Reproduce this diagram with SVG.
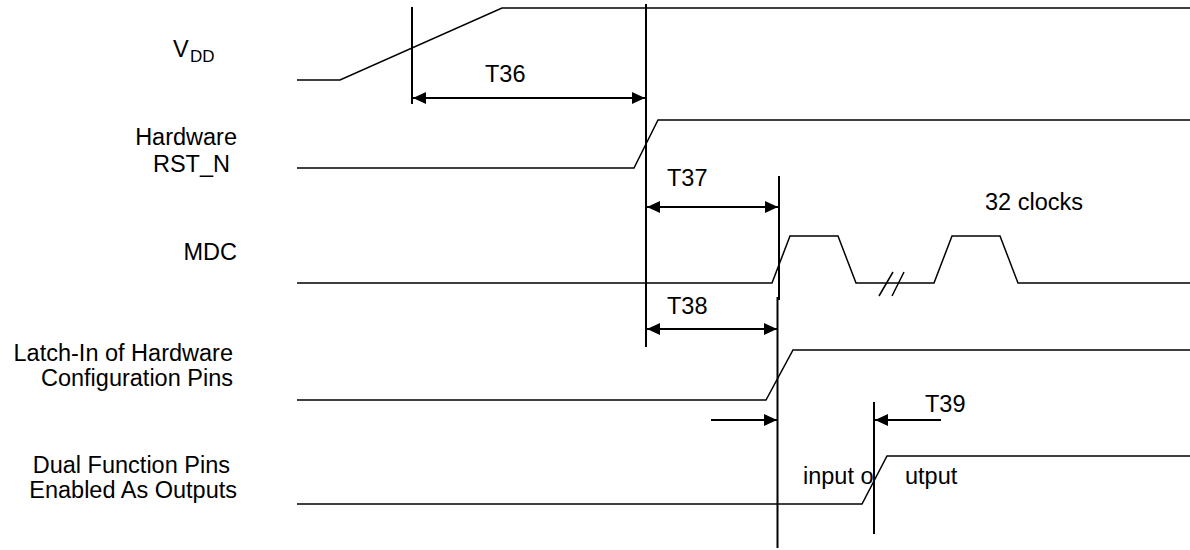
<svg xmlns="http://www.w3.org/2000/svg" width="1190" height="550" viewBox="0 0 1190 550">
<style>
text{font-family:"Liberation Sans",Arial,sans-serif;font-size:23.5px;fill:#000}
.lbl{text-anchor:end}
.sub{font-size:17px}
.wave{fill:none;stroke:#000;stroke-width:1.5;stroke-linejoin:miter}
.mark{fill:none;stroke:#000;stroke-width:2}
.arr{fill:none;stroke:#000;stroke-width:2}
</style>
<defs>
<marker id="ah" viewBox="0 0 13 12" refX="13" refY="6" markerWidth="13" markerHeight="12" markerUnits="userSpaceOnUse" orient="auto-start-reverse">
<path d="M0,0 L13,6 L0,12 z" fill="#000"/>
</marker>
</defs>
<rect width="1190" height="550" fill="#fff"/>
<g id="vdd">
<text x="173" y="57">V<tspan class="sub" x="190" y="62">DD</tspan></text>
<path class="wave" d="M297,80 L340,80 L502,8 L1190,8"/>
</g>
<g id="rst_n">
<text class="lbl" x="237" y="145">Hardware</text>
<text class="lbl" x="230" y="172">RST_N</text>
<path class="wave" d="M297,168 L634,168 L658,120 L1190,120"/>
</g>
<g id="mdc">
<text class="lbl" x="237" y="260">MDC</text>
<path class="wave" d="M297,283 L772,283 L790,236 L838,236 L856,283 L934,283 L952,236 L1000,236 L1018,283 L1190,283"/>
<path class="wave" d="M879,296 L893,272 M892,296 L904,272"/>
<text x="985" y="210">32 clocks</text>
</g>
<g id="latch">
<text class="lbl" x="233" y="361">Latch-In of Hardware</text>
<text class="lbl" x="233" y="386">Configuration Pins</text>
<path class="wave" d="M297,400 L766,400 L793,350 L1190,350"/>
</g>
<g id="dual">
<text class="lbl" x="230" y="473">Dual Function Pins</text>
<text class="lbl" x="237" y="498">Enabled As Outputs</text>
<path class="wave" d="M297,504 L862,504 L887,456 L1190,456"/>
<text x="803" y="484">input o</text>
<text x="905" y="484">utput</text>
</g>
<g id="connectors">
<line class="mark" x1="412" y1="7" x2="412" y2="104"/>
<line class="mark" x1="646" y1="4" x2="646" y2="347"/>
<line class="mark" x1="779" y1="176" x2="779" y2="300"/>
<line class="mark" x1="777.5" y1="297" x2="777.5" y2="548"/>
<line class="mark" x1="874" y1="402" x2="874" y2="534"/>
<line class="arr" x1="413" y1="98" x2="645" y2="98" marker-start="url(#ah)" marker-end="url(#ah)"/>
<line class="arr" x1="647" y1="207" x2="778" y2="207" marker-start="url(#ah)" marker-end="url(#ah)"/>
<line class="arr" x1="647" y1="329" x2="777" y2="329" marker-start="url(#ah)" marker-end="url(#ah)"/>
<line class="arr" x1="711" y1="420" x2="777" y2="420" marker-end="url(#ah)"/>
<line class="arr" x1="941" y1="420" x2="875" y2="420" marker-end="url(#ah)"/>
<text x="485" y="82">T36</text>
<text x="667" y="186">T37</text>
<text x="667" y="314">T38</text>
<text x="925" y="412">T39</text>
</g>
</svg>
